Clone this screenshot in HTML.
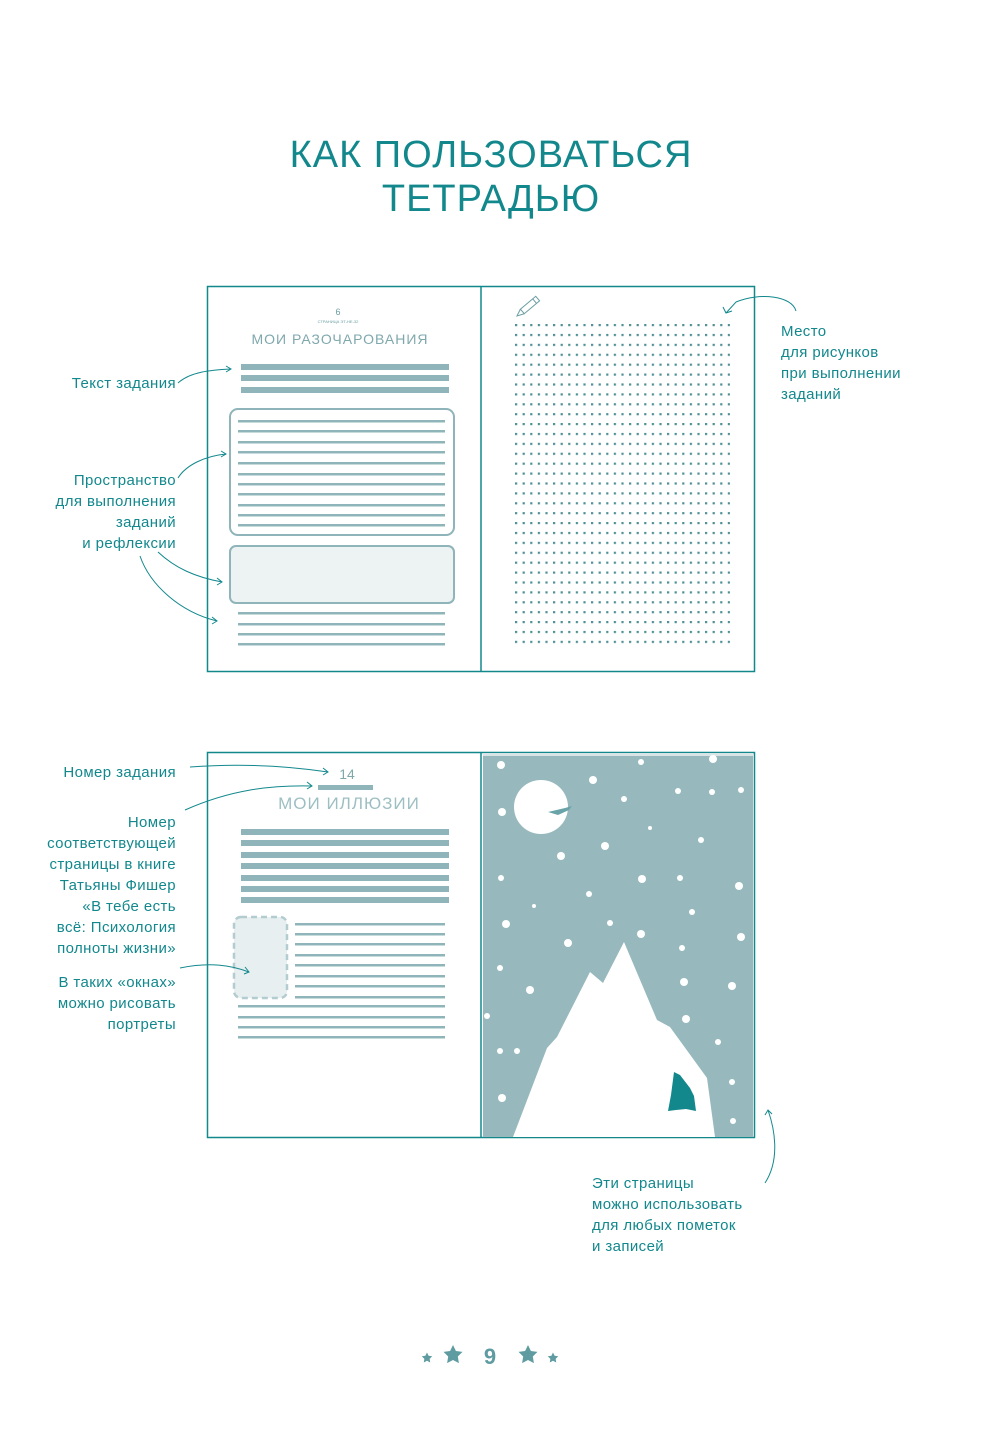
<!DOCTYPE html>
<html><head><meta charset="utf-8"><style>
body{margin:0;background:#fff;}
#c{position:relative;width:992px;height:1447px;overflow:hidden;font-family:"Liberation Sans","DejaVu Sans",sans-serif;color:#12888d;}
.t{position:absolute;font-size:15px;line-height:21px;letter-spacing:0.4px;}
.r{text-align:right;}
h1{position:absolute;left:0;width:982px;top:133px;margin:0;text-align:center;font-weight:normal;font-size:38px;line-height:44px;letter-spacing:1px;color:#12888d;}
</style></head><body><div id="c">
<h1>КАК ПОЛЬЗОВАТЬСЯ<br>ТЕТРАДЬЮ</h1>
<svg width="992" height="1447" style="position:absolute;left:0;top:0">
<g fill="none" stroke="#12888d" stroke-width="1.5">
<rect x="207.5" y="286.5" width="547" height="385"/>
<line x1="481" y1="286" x2="481" y2="672"/>
<rect x="207.5" y="752.5" width="547" height="385"/>
<line x1="481" y1="752" x2="481" y2="1138"/>
</g>
<text x="338" y="315" font-size="9" fill="#6a9ea2" text-anchor="middle" font-family="Liberation Sans">6</text>
<text x="338" y="323" font-size="4" fill="#6a9ea2" text-anchor="middle" font-family="Liberation Sans">СТРАНИЦА ЭТ-НЕ-32</text>
<text x="340" y="344" font-size="14" fill="#7fa8ad" text-anchor="middle" letter-spacing="1" font-family="Liberation Sans">МОИ РАЗОЧАРОВАНИЯ</text>
<g fill="#8fb4b9">
<rect x="241" y="364" width="208" height="6"/><rect x="241" y="375" width="208" height="6"/><rect x="241" y="387" width="208" height="6"/>
</g>
<rect x="230" y="409" width="224" height="126" rx="8" fill="none" stroke="#8fb4b9" stroke-width="2"/>
<g fill="#8fb4b9">
<rect x="238" y="420" width="207" height="2.5"/><rect x="238" y="430" width="207" height="2.5"/><rect x="238" y="441" width="207" height="2.5"/><rect x="238" y="451" width="207" height="2.5"/><rect x="238" y="462" width="207" height="2.5"/><rect x="238" y="473" width="207" height="2.5"/><rect x="238" y="483" width="207" height="2.5"/><rect x="238" y="493" width="207" height="2.5"/><rect x="238" y="504" width="207" height="2.5"/><rect x="238" y="514" width="207" height="2.5"/><rect x="238" y="524" width="207" height="2.5"/>
<rect x="238" y="612" width="207" height="2.5"/><rect x="238" y="623" width="207" height="2.5"/><rect x="238" y="633" width="207" height="2.5"/><rect x="238" y="643" width="207" height="2.5"/>
</g>
<rect x="230" y="546" width="224" height="57" rx="6" fill="#edf2f3" stroke="#8fb4b9" stroke-width="2"/>
<g transform="translate(530,305) rotate(-40)" stroke="#6a9ea2" fill="none" stroke-width="1"><rect x="-10" y="-3" width="20" height="6"/><path d="M-10,-3 L-17,0 L-10,3"/><line x1="6" y1="-3" x2="6" y2="3"/></g>
<defs><pattern id="d" x="515" y="324" width="7.6" height="9.9" patternUnits="userSpaceOnUse"><rect x="0" y="0" width="2.2" height="2.2" fill="#4e9095"/></pattern></defs>
<rect x="515" y="324" width="215" height="325" fill="url(#d)"/>
<text x="347" y="779" font-size="14" fill="#7fa8ad" text-anchor="middle" font-family="Liberation Sans">14</text>
<rect x="318" y="785" width="55" height="5" fill="#8fb4b9"/>
<text x="349" y="809" font-size="17" fill="#9dbfc3" text-anchor="middle" letter-spacing="1" font-family="Liberation Sans">МОИ ИЛЛЮЗИИ</text>
<g fill="#8fb4b9">
<rect x="241" y="829" width="208" height="6"/><rect x="241" y="840" width="208" height="6"/><rect x="241" y="852" width="208" height="6"/><rect x="241" y="863" width="208" height="6"/><rect x="241" y="875" width="208" height="6"/><rect x="241" y="886" width="208" height="6"/><rect x="241" y="897" width="208" height="6"/>
<rect x="295" y="923" width="150" height="2.5"/><rect x="295" y="933" width="150" height="2.5"/><rect x="295" y="943" width="150" height="2.5"/><rect x="295" y="954" width="150" height="2.5"/><rect x="295" y="964" width="150" height="2.5"/><rect x="295" y="975" width="150" height="2.5"/><rect x="295" y="985" width="150" height="2.5"/><rect x="295" y="996" width="150" height="2.5"/>
<rect x="238" y="1005" width="207" height="2.5"/><rect x="238" y="1016" width="207" height="2.5"/><rect x="238" y="1026" width="207" height="2.5"/><rect x="238" y="1036" width="207" height="2.5"/>
</g>
<rect x="234" y="917" width="53" height="81" rx="7" fill="#e7eff0" stroke="#b3cccf" stroke-width="2.5" stroke-dasharray="6,4"/>
<rect x="483" y="755" width="270" height="382" fill="#97b9bd"/>
<rect x="483" y="753" width="270" height="3" fill="#d8e4e5"/>
<circle cx="541" cy="807" r="27" fill="#fff"/>
<path d="M548,812 L565,808 L572,806 L569,810 L558,815 Z" fill="#6aa3a8"/>
<g fill="#fff">
<circle cx="501" cy="765" r="4"/><circle cx="641" cy="762" r="3"/><circle cx="713" cy="759" r="4"/><circle cx="593" cy="780" r="4"/><circle cx="678" cy="791" r="3"/><circle cx="712" cy="792" r="3"/><circle cx="741" cy="790" r="3"/><circle cx="624" cy="799" r="3"/><circle cx="502" cy="812" r="4"/><circle cx="650" cy="828" r="2"/><circle cx="701" cy="840" r="3"/><circle cx="605" cy="846" r="4"/><circle cx="561" cy="856" r="4"/><circle cx="501" cy="878" r="3"/><circle cx="642" cy="879" r="4"/><circle cx="680" cy="878" r="3"/><circle cx="739" cy="886" r="4"/><circle cx="589" cy="894" r="3"/><circle cx="534" cy="906" r="2"/><circle cx="692" cy="912" r="3"/><circle cx="506" cy="924" r="4"/><circle cx="610" cy="923" r="3"/><circle cx="641" cy="934" r="4"/><circle cx="568" cy="943" r="4"/><circle cx="741" cy="937" r="4"/><circle cx="682" cy="948" r="3"/><circle cx="500" cy="968" r="3"/><circle cx="684" cy="982" r="4"/><circle cx="732" cy="986" r="4"/><circle cx="530" cy="990" r="4"/><circle cx="686" cy="1019" r="4"/><circle cx="487" cy="1016" r="3"/><circle cx="517" cy="1051" r="3"/><circle cx="718" cy="1042" r="3"/><circle cx="500" cy="1051" r="3"/><circle cx="732" cy="1082" r="3"/><circle cx="502" cy="1098" r="4"/><circle cx="733" cy="1121" r="3"/>
<path d="M513,1137 L547,1048 L557,1037 L590,972 L603,983 L624,942 L657,1020 L670,1027 L707,1078 L715,1137 Z"/>
</g>
<path d="M674,1072 L680,1075 L690,1088 L694,1096 L696,1111 L686,1109 L676,1110 L668,1111 L671,1095 Z" fill="#12888d"/>
<g fill="none" stroke="#12888d" stroke-width="1">
<path d="M178,383 C190,372 210,370 231,369"/><path d="M226,366 L231,369 L226,372"/>
<path d="M178,478 C186,465 205,456 226,454"/><path d="M221,451 L226,454 L221,457"/>
<path d="M158,552 C175,568 195,577 222,582"/><path d="M217,578 L222,582 L217,585"/>
<path d="M140,556 C150,585 180,612 217,621"/><path d="M212,617 L217,621 L212,624"/>
<path d="M796,311 C792,296 760,292 736,302 L726,313"/><path d="M723,307 L726,313 L732,311"/>
<path d="M190,767 C230,764 275,764 328,772"/><path d="M323,768 L328,772 L323,775"/>
<path d="M185,810 C230,790 270,785 312,786"/><path d="M307,782 L312,786 L307,789"/>
<path d="M180,968 C210,962 230,965 249,972"/><path d="M245,967 L249,972 L244,974"/>
<path d="M765,1183 C780,1160 775,1130 768,1110"/><path d="M765,1115 L768,1110 L772,1114"/>
</g>
<g fill="#5f9ca1">
<path transform="translate(427,1358) scale(0.55)" d="M0,-10 L2.9,-4 L9.5,-3.1 L4.8,1.5 L5.9,8.1 L0,5 L-5.9,8.1 L-4.8,1.5 L-9.5,-3.1 L-2.9,-4Z"/>
<path transform="translate(453,1355)" d="M0,-10 L2.9,-4 L9.5,-3.1 L4.8,1.5 L5.9,8.1 L0,5 L-5.9,8.1 L-4.8,1.5 L-9.5,-3.1 L-2.9,-4Z"/>
<path transform="translate(528,1355)" d="M0,-10 L2.9,-4 L9.5,-3.1 L4.8,1.5 L5.9,8.1 L0,5 L-5.9,8.1 L-4.8,1.5 L-9.5,-3.1 L-2.9,-4Z"/>
<path transform="translate(553,1358) scale(0.55)" d="M0,-10 L2.9,-4 L9.5,-3.1 L4.8,1.5 L5.9,8.1 L0,5 L-5.9,8.1 L-4.8,1.5 L-9.5,-3.1 L-2.9,-4Z"/>
</g>
<text x="490" y="1364" font-size="22" font-weight="bold" fill="#5f9ca1" text-anchor="middle" font-family="Liberation Sans">9</text>
</svg>
<div class="t r" style="right:816px;top:373px">Текст задания</div>
<div class="t r" style="right:816px;top:470px">Пространство<br>для выполнения<br>заданий<br>и рефлексии</div>
<div class="t" style="left:781px;top:321px">Место<br>для рисунков<br>при выполнении<br>заданий</div>
<div class="t r" style="right:816px;top:762px">Номер задания</div>
<div class="t r" style="right:816px;top:812px">Номер<br>соответствующей<br>страницы в книге<br>Татьяны Фишер<br>«В тебе есть<br>всё: Психология<br>полноты жизни»</div>
<div class="t r" style="right:816px;top:972px">В таких «окнах»<br>можно рисовать<br>портреты</div>
<div class="t" style="left:592px;top:1173px">Эти страницы<br>можно использовать<br>для любых пометок<br>и записей</div>
</div></body></html>
